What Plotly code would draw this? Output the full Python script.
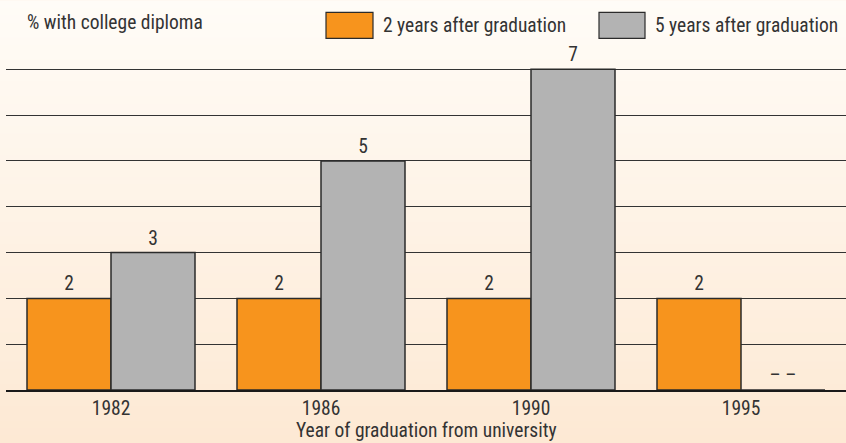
import plotly.graph_objects as go

years = ["1982", "1986", "1990", "1995"]
two_years = [2, 2, 2, 2]
five_years = [3, 5, 7, None]
series_names = ["2 years after graduation", "5 years after graduation"]
y_title = "% with college diploma"
x_title = "Year of graduation from university"

ORANGE = "#F7941D"
GRAY = "#B3B3B3"
OUTLINE = "#2b2b2b"
TEXT = "#333333"
FONT = "Liberation Sans Narrow, Roboto Condensed, DejaVu Sans Condensed, Roboto, sans-serif"
FS = 19.5

W, H = 846, 443
YMAX = 7.03
L, R, B = 6, 0, 53
PH = (H - B - 69) * YMAX / 7
T = H - B - PH
PW = W - L - R

def px_x(x):
    return (x - L) / PW

def px_y(y):
    return (H - B - y) / PH

fig = go.Figure()
fig.add_trace(go.Bar(
    x=years, y=two_years, name=series_names[0],
    marker=dict(color=ORANGE, line=dict(color=OUTLINE, width=1.5)),
    text=[str(v) for v in two_years], textposition="outside",
    textfont=dict(size=FS, color=TEXT), cliponaxis=False, showlegend=False,
))
fig.add_trace(go.Bar(
    x=years, y=[v if v is not None else 0 for v in five_years], name=series_names[1],
    marker=dict(color=GRAY, line=dict(color=OUTLINE, width=1.5)),
    text=[str(v) if v is not None else "– –" for v in five_years], textposition="outside",
    textfont=dict(size=FS, color=TEXT), cliponaxis=False, showlegend=False,
))

# background gradient
shapes = []
top = (255, 252, 247)
bot = (253, 233, 212)
n = 60
for i in range(n):
    t = i / (n - 1)
    c = tuple(round(top[k] + (bot[k] - top[k]) * t) for k in range(3))
    y0 = i * H / n
    y1 = (i + 1) * H / n + 1
    shapes.append(dict(type="rect", xref="paper", yref="paper", layer="below",
                       x0=px_x(0), x1=px_x(W), y0=px_y(y1), y1=px_y(y0),
                       line=dict(width=0), fillcolor="rgb(%d,%d,%d)" % c))

# legend boxes
shapes.append(dict(type="rect", xref="paper", yref="paper",
                   x0=px_x(326), x1=px_x(373), y0=px_y(38), y1=px_y(12),
                   fillcolor=ORANGE, line=dict(color=OUTLINE, width=1.2)))
shapes.append(dict(type="rect", xref="paper", yref="paper",
                   x0=px_x(599), x1=px_x(645), y0=px_y(38), y1=px_y(12),
                   fillcolor=GRAY, line=dict(color=OUTLINE, width=1.2)))

annotations = [
    dict(text=series_names[0], xref="paper", yref="paper", x=px_x(381), y=px_y(25),
         xanchor="left", yanchor="middle", showarrow=False, font=dict(size=FS, color=TEXT)),
    dict(text=series_names[1], xref="paper", yref="paper", x=px_x(653), y=px_y(25),
         xanchor="left", yanchor="middle", showarrow=False, font=dict(size=FS, color=TEXT)),
    dict(text=y_title, xref="paper", yref="paper", x=px_x(25), y=px_y(22),
         xanchor="left", yanchor="middle", showarrow=False, font=dict(size=FS, color=TEXT)),
    dict(text=x_title, xref="paper", yref="paper", x=px_x(426), y=px_y(444),
         xanchor="center", yanchor="bottom", showarrow=False, font=dict(size=FS, color=TEXT)),
]

fig.update_layout(
    width=W, height=H, margin=dict(l=L, r=R, t=T, b=B),
    barmode="group", bargap=0.2, bargroupgap=0,
    paper_bgcolor="#FEF6EC", plot_bgcolor="rgba(0,0,0,0)",
    font=dict(family=FONT, size=FS, color=TEXT),
    shapes=shapes, annotations=annotations, showlegend=False,
    xaxis=dict(showgrid=False, showline=True, linecolor="#1a1a1a", linewidth=2,
               ticks="", tickfont=dict(size=FS, color=TEXT), fixedrange=True),
    yaxis=dict(range=[0, YMAX], dtick=1, showgrid=True, gridcolor="#333333", gridwidth=1.3,
               showticklabels=False, zeroline=False, ticks="", fixedrange=True),
)

fig.write_html("out.html", config={"displayModeBar": False},
               post_script="document.body.style.margin='0';document.body.style.overflow='hidden';")
